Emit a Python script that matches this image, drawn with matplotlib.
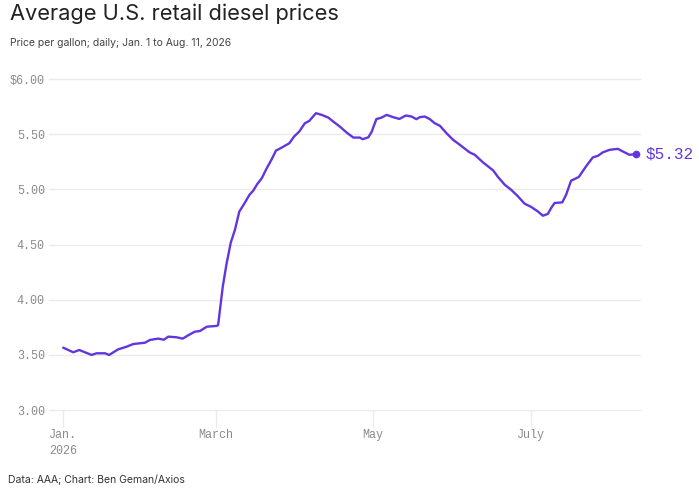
import matplotlib
matplotlib.use("Agg")
import matplotlib.pyplot as plt

# Days since Jan. 1, 2026 and price per gallon (USD)
days = [0, 3.9, 6.2, 11, 12.9, 16.2, 17.8, 21.3, 24.6, 27.1, 31.7, 33.6, 36.8, 39, 40.7,
        43.9, 46.3, 48.4, 51, 53, 55.6, 59.4, 60, 61.8, 63.3, 64.9, 66.5, 68.2, 70.4,
        72.1, 73.6, 75.2, 76.9, 78.8, 80.7, 82.4, 84.6, 87.6, 89.4, 91.4, 93.6, 95.3,
        97.9, 100.1, 102.7, 104.6, 107.2, 109.8, 112.4, 114.9, 116, 118.2, 119.5,
        121.3, 123.3, 125.3, 127.8, 130.2, 132.7, 134.9, 136.8, 138.1, 140, 142,
        143.9, 145.9, 148.4, 151, 153.6, 157.4, 159.4, 162.6, 166.5, 168.4, 171,
        173.5, 176.1, 178.7, 181.3, 183.8, 185.8, 187.7, 189, 190.3, 193.3, 194.8,
        196.7, 199.7, 202.5, 205.1, 207.1, 209, 211.6, 214.8, 216.7, 219.3, 222]
prices = [3.565, 3.523, 3.544, 3.499, 3.514, 3.514, 3.499, 3.55, 3.574, 3.598, 3.61,
          3.635, 3.647, 3.637, 3.665, 3.659, 3.647, 3.677, 3.71, 3.716, 3.755, 3.762,
          3.77, 4.118, 4.33, 4.517, 4.632, 4.798, 4.88, 4.949, 4.988, 5.049, 5.10,
          5.19, 5.27, 5.351, 5.378, 5.418, 5.478, 5.523, 5.599, 5.62, 5.69, 5.675,
          5.65, 5.614, 5.568, 5.514, 5.469, 5.469, 5.454, 5.472, 5.523, 5.637, 5.65,
          5.675, 5.654, 5.638, 5.669, 5.66, 5.636, 5.654, 5.66, 5.636, 5.599, 5.576,
          5.51, 5.449, 5.404, 5.335, 5.313, 5.244, 5.172, 5.112, 5.042, 4.996, 4.937,
          4.87, 4.84, 4.80, 4.761, 4.777, 4.831, 4.876, 4.882, 4.952, 5.078, 5.112,
          5.208, 5.289, 5.304, 5.335, 5.358, 5.367, 5.344, 5.313, 5.32]

y_ticks = [3.0, 3.5, 4.0, 4.5, 5.0, 5.5, 6.0]
y_labels = ["3.00", "3.50", "4.00", "4.50", "5.00", "5.50", "$6.00"]
x_ticks = [0, 59, 120, 181]
x_labels = ["Jan.\n2026", "March", "May", "July"]
end_label = "$5.32"

PURPLE = "#6236DE"
GRID = "#ebebeb"
TICKTXT = "#8a8a8a"
MONO = "Liberation Mono"

fig = plt.figure(figsize=(6.99, 4.90), dpi=100)
ax = fig.add_axes([49/699, 1-410/490, (640-49)/699, (410-79)/490])

ax.plot(days, prices, color=PURPLE, lw=1.7, solid_capstyle="round", solid_joinstyle="round", zorder=3)
ax.plot([days[-1]], [prices[-1]], "o", color=PURPLE, ms=4.5, zorder=4, clip_on=False)
ax.annotate(end_label, (days[-1], prices[-1]), xytext=(6.5, 0), textcoords="offset points",
            va="center", ha="left", color=PURPLE, fontsize=11.5, family=MONO,
            annotation_clip=False)

ax.set_xlim(-5.5, 223.4)
ax.set_ylim(3.0, 6.0)
ax.set_yticks(y_ticks)
ax.set_yticklabels(y_labels)
ax.set_xticks(x_ticks)
ax.set_xticklabels(x_labels)

for s in ax.spines.values():
    s.set_visible(False)
ax.grid(axis="y", color=GRID, lw=1, zorder=0)
for gl in ax.get_ygridlines():
    gl.set_clip_on(False)
ax.tick_params(axis="y", length=0, pad=3, labelsize=8.5, labelcolor=TICKTXT)
ax.tick_params(axis="x", length=12, width=1, color=GRID, direction="out", pad=2,
               labelsize=8.5, labelcolor=TICKTXT)
for lbl in ax.get_xticklabels() + ax.get_yticklabels():
    lbl.set_family(MONO)
for lbl in ax.get_xticklabels():
    lbl.set_linespacing(1.4)

fig.text(10/699, 1-14/490, "Average U.S. retail diesel prices", fontsize=15.7,
         family="Inter", color="#222222", va="center", ha="left")
fig.text(10/699, 1-43/490, "Price per gallon; daily; Jan. 1 to Aug. 11, 2026", fontsize=7.5,
         family="Inter", color="#444444", va="center", ha="left")
fig.text(8/699, 1-480/490, "Data: AAA; Chart: Ben Geman/Axios", fontsize=7.5,
         family="Inter", color="#333333", va="center", ha="left")

fig.savefig("out.png", dpi=100, facecolor="white")
